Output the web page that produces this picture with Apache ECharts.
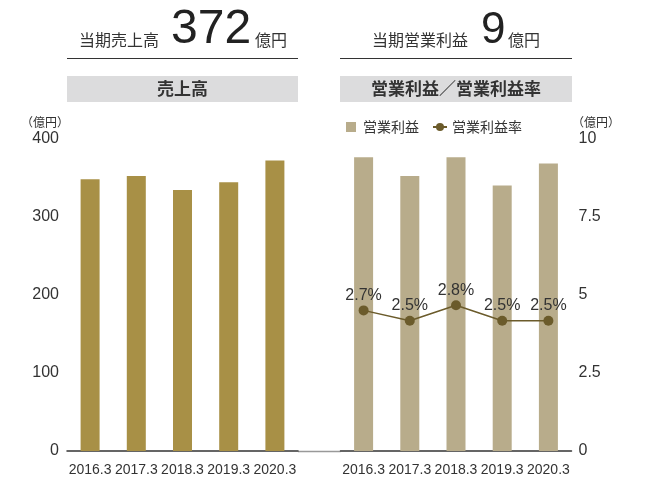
<!DOCTYPE html>
<html>
<head>
<meta charset="utf-8">
<script src="https://cdn.jsdelivr.net/npm/echarts@6/dist/echarts.min.js"></script>
<style>
  html, body { margin: 0; padding: 0; background: #fff; }
  #chart { width: 646px; height: 477px; }
</style>
</head>
<body>
<div id="chart"></div>
<script>
// Fiscal years (March year-end)
const categories = ['2016.3', '2017.3', '2018.3', '2019.3', '2020.3'];
// Net sales, 100 million yen
const sales = [348, 352, 334, 344, 372];
// Operating profit, 100 million yen
const operatingProfit = [9.4, 8.8, 9.4, 8.5, 9.2];
// Operating profit margin, %
const profitMargin = [2.7, 2.5, 2.8, 2.5, 2.5];
// Axis tick values
const salesTicks = [0, 100, 200, 300, 400];
const profitTicks = [0, 2.5, 5, 7.5, 10];

const NUM_FONT = '"Liberation Sans", "Noto Sans CJK JP", sans-serif';
const NARROW_FONT = '"Liberation Sans Narrow", "Liberation Sans", sans-serif';
const JP_FONT = '"Noto Sans CJK JP", "Liberation Sans", sans-serif';
const TEXT = '#333333';

const chart = echarts.init(document.getElementById('chart'), null, { renderer: 'canvas' });

const categoryAxis = (gridIndex) => ({
  type: 'category', gridIndex, data: categories,
  axisLine: { lineStyle: { color: '#333', width: 1.5 } },
  axisTick: { show: false },
  axisLabel: { interval: 0, color: TEXT, fontSize: 14, margin: 12, fontFamily: NARROW_FONT }
});

const option = {
  animation: false,
  backgroundColor: '#ffffff',
  textStyle: { fontFamily: NUM_FONT, color: TEXT },
  grid: [
    { left: 67, right: 348, top: 138.5, bottom: 25.5, containLabel: false },
    { left: 340.5, right: 74.5, top: 138.5, bottom: 25.5, containLabel: false }
  ],
  legend: {
    left: 341, top: 115,
    itemWidth: 14, itemHeight: 10, itemGap: 13,
    textStyle: { fontFamily: JP_FONT, fontSize: 14, color: TEXT },
    data: [
      { name: '営業利益', icon: 'path://M0,0H10V10H0Z' },
      { name: '営業利益率' }
    ]
  },
  xAxis: [categoryAxis(0), categoryAxis(1)],
  yAxis: [
    {
      type: 'value', gridIndex: 0,
      min: salesTicks[0], max: salesTicks[salesTicks.length - 1], interval: 100,
      axisLine: { show: false }, axisTick: { show: false }, splitLine: { show: false },
      axisLabel: { color: TEXT, fontSize: 16, margin: 8 }
    },
    {
      type: 'value', gridIndex: 1, position: 'right',
      min: profitTicks[0], max: profitTicks[profitTicks.length - 1], interval: 2.5,
      axisLine: { show: false }, axisTick: { show: false }, splitLine: { show: false },
      axisLabel: { color: TEXT, fontSize: 16, margin: 7, align: 'left' }
    },
    {
      // margin (%) scale, not displayed
      type: 'value', gridIndex: 1, min: 0, max: 6, show: false,
      splitLine: { show: false }
    }
  ],
  series: [
    {
      name: '売上高', type: 'bar', xAxisIndex: 0, yAxisIndex: 0,
      data: sales, barWidth: 19,
      itemStyle: { color: '#a89046' }
    },
    {
      name: '営業利益', type: 'bar', xAxisIndex: 1, yAxisIndex: 1,
      data: operatingProfit, barWidth: 19,
      itemStyle: { color: '#b8ac8b' }
    },
    {
      name: '営業利益率', type: 'line', xAxisIndex: 1, yAxisIndex: 2,
      data: profitMargin, symbol: 'circle', symbolSize: 10,
      lineStyle: { color: '#6b5b2b', width: 1.5 },
      itemStyle: { color: '#6b5b2b' },
      label: {
        show: true, position: 'top', distance: 2,
        formatter: p => p.value + '%',
        fontSize: 16, color: TEXT, fontFamily: NUM_FONT
      },
      z: 5
    }
  ],
  graphic: [
    // Headline figures
    { type: 'text', style: { text: '当期売上高', x: 79, y: 40, font: '16px ' + JP_FONT, fill: TEXT, verticalAlign: 'middle' } },
    { type: 'text', style: { text: '372', x: 171, y: 30, font: '48px ' + NUM_FONT, fill: '#222', verticalAlign: 'middle' } },
    { type: 'text', style: { text: '億円', x: 255, y: 40, font: '16px ' + JP_FONT, fill: TEXT, verticalAlign: 'middle' } },
    { type: 'line', shape: { x1: 67, y1: 58.5, x2: 298, y2: 58.5 }, style: { stroke: '#333', lineWidth: 1 } },

    { type: 'text', style: { text: '当期営業利益', x: 372, y: 40, font: '16px ' + JP_FONT, fill: TEXT, verticalAlign: 'middle' } },
    { type: 'text', style: { text: '9', x: 481, y: 31, font: '44px ' + NUM_FONT, fill: '#222', verticalAlign: 'middle' } },
    { type: 'text', style: { text: '億円', x: 508, y: 40, font: '16px ' + JP_FONT, fill: TEXT, verticalAlign: 'middle' } },
    { type: 'line', shape: { x1: 340, y1: 58.5, x2: 572, y2: 58.5 }, style: { stroke: '#333', lineWidth: 1 } },

    // Section title bars
    { type: 'rect', shape: { x: 67, y: 76, width: 231, height: 26 }, style: { fill: '#dcdcdd' } },
    { type: 'text', style: { text: '売上高', x: 182.5, y: 89, font: 'bold 17px ' + JP_FONT, fill: TEXT, align: 'center', verticalAlign: 'middle' } },
    { type: 'rect', shape: { x: 340, y: 76, width: 232, height: 26 }, style: { fill: '#dcdcdd' } },
    { type: 'text', style: { text: '営業利益／営業利益率', x: 456, y: 89, font: 'bold 17px ' + JP_FONT, fill: TEXT, align: 'center', verticalAlign: 'middle' } },

    // Axis units
    { type: 'text', style: { text: '（億円）', x: 45, y: 122, font: '12px ' + JP_FONT, fill: TEXT, align: 'center', verticalAlign: 'middle' } },
    { type: 'text', style: { text: '（億円）', x: 596, y: 122, font: '12px ' + JP_FONT, fill: TEXT, align: 'center', verticalAlign: 'middle' } },

    // Baseline segment joining the two panels
    { type: 'line', shape: { x1: 298, y1: 451.5, x2: 340.5, y2: 451.5 }, style: { stroke: '#999', lineWidth: 1.5 } }
  ]
};

chart.setOption(option);
</script>
</body>
</html>
